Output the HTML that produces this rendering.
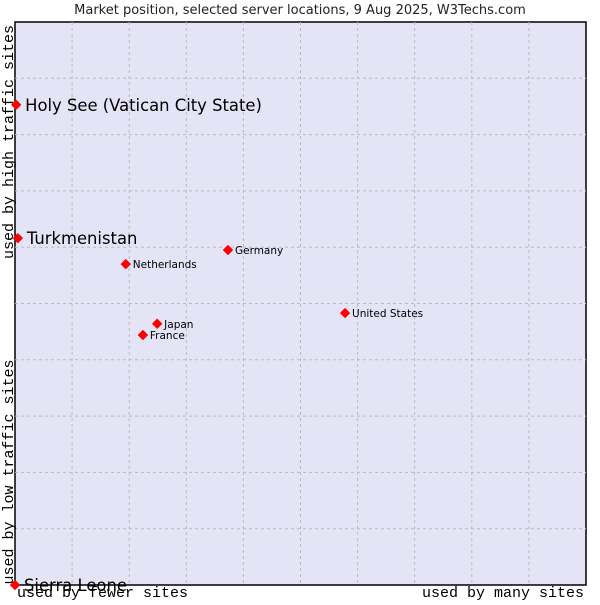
<!DOCTYPE html>
<html><head><meta charset="utf-8"><style>
body{margin:0;background:#fff;width:600px;height:600px;overflow:hidden}
svg text{font-family:"DejaVu Sans","Liberation Sans",sans-serif}
.mono{font-family:"Liberation Mono","DejaVu Sans Mono",monospace}
</style></head><body>
<svg id="c" width="600" height="600">
<text x="300" y="14" text-anchor="middle" font-size="13" fill="#222">Market position, selected server locations, 9 Aug 2025, W3Techs.com</text>
<rect x="15" y="22" width="571" height="563" fill="#e4e4f6" stroke="#000" stroke-width="1.5"/>
<g id="grid"></g>
<g id="pts"></g>
<text class="mono" x="17" y="597" font-size="15" fill="#000">used by fewer sites</text>
<text class="mono" x="584" y="597" text-anchor="end" font-size="15" fill="#000">used by many sites</text>
<text class="mono" transform="translate(13,142) rotate(-90)" text-anchor="middle" font-size="15" fill="#000">used by high traffic sites</text>
<text class="mono" transform="translate(13,472) rotate(-90)" text-anchor="middle" font-size="15" fill="#000">used by low traffic sites</text>
</svg>
<script>
const names=["Holy See (Vatican City State)","Turkmenistan","Sierra Leone","Netherlands","Germany","United States","Japan","France"];
const xVals=[0.2,0.5,0,19.4,37.3,57.8,24.9,22.4];
const yVals=[85.3,61.6,0,57.0,59.5,48.3,46.4,44.4];
const big=[true,true,true,false,false,false,false,false];
const X0=15,W=571,Y0=585,H=563;
const sx=v=>X0+W*v/100, sy=v=>Y0-H*v/100;
const NS="http://www.w3.org/2000/svg";
const g=document.getElementById('grid');
for(let i=1;i<10;i++){
 let l=document.createElementNS(NS,'line');
 l.setAttribute('x1',sx(i*10));l.setAttribute('x2',sx(i*10));l.setAttribute('y1',22);l.setAttribute('y2',585);
 l.setAttribute('stroke','#bbb');l.setAttribute('stroke-dasharray','3,3');
 
 
 g.appendChild(l);
 let h=document.createElementNS(NS,'line');
 h.setAttribute('y1',sy(i*10));h.setAttribute('y2',sy(i*10));h.setAttribute('x1',15);h.setAttribute('x2',586);
 h.setAttribute('stroke','#bbb');h.setAttribute('stroke-dasharray','3,3');
 
 
 g.appendChild(h);
}
const p=document.getElementById('pts');
names.forEach((n,i)=>{
 const x=sx(xVals[i]),y=sy(yVals[i]);
 let m=document.createElementNS(NS,'path');
 m.setAttribute('d',`M${x-4.5},${y}L${x},${y-4.5}L${x+4.5},${y}L${x},${y+4.5}Z`);
 m.setAttribute('fill','#f00');
 m.setAttribute('stroke','#f00');
 m.setAttribute('stroke-linejoin','round');
 
 
 p.appendChild(m);
 let t=document.createElementNS(NS,'text');
 t.setAttribute('x',x+(big[i]?9:7));t.setAttribute('y',y+(big[i]?6:4));
 t.setAttribute('font-size',big[i]?16.4:10.5);t.setAttribute('fill','#000');
 t.textContent=n;
 
 
 p.appendChild(t);
});
</script>
</body></html>
